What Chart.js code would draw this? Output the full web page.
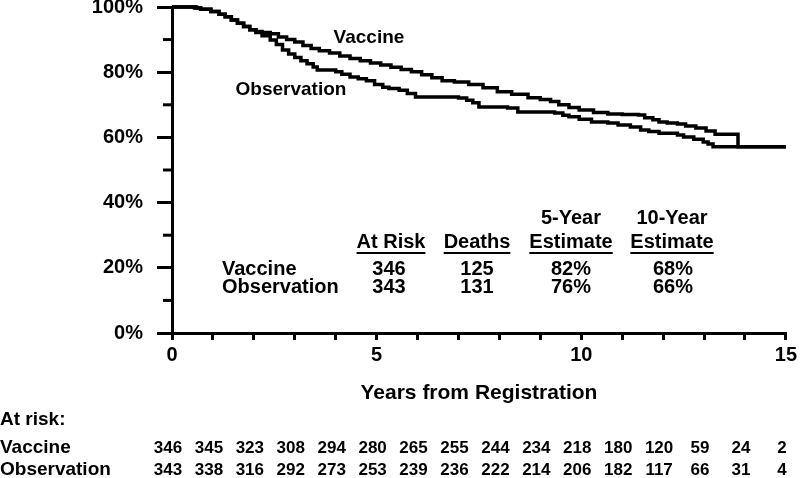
<!DOCTYPE html>
<html lang="en">
<head>
    <meta charset="UTF-8">
    <title>Survival - Vaccine vs Observation</title>
    <!-- Chart.js CDN -->
    <script src="https://cdn.jsdelivr.net/npm/chart.js"></script>
    <style>
        body {
            margin: 0;
            padding: 0;
            background: #fff;
        }

        .chart-wrap {
            width: 800px;
            height: 478px;
        }
    </style>
</head>
<body>
    <div class="chart-wrap">
        <canvas id="kmChart" width="800" height="478"></canvas>
    </div>

    <script>
        // Kaplan-Meier curves (years, % surviving)
        const vaccineYears = [0, 0.6, 0.7, 0.95, 1.15, 1.3, 1.45, 1.6, 1.75, 1.9, 2.05, 2.2, 2.4, 2.6, 2.8, 3.0, 3.2, 3.4, 3.6, 3.85, 4.1, 4.35, 4.6, 4.85, 5.1, 5.35, 5.6, 5.85, 6.1, 6.35, 6.6, 6.9, 7.25, 7.6, 7.95, 8.3, 8.7, 9.0, 9.25, 9.45, 9.7, 9.95, 10.3, 10.65, 11.0, 11.4, 11.55, 11.75, 11.9, 12.1, 12.35, 12.55, 12.8, 13.05, 13.27, 13.83, 15];
        const vaccineSurv = [100, 99.7, 99.3, 98.6, 97.8, 97.0, 96.0, 95.0, 94.0, 93.0, 92.5, 92.2, 91.8, 90.8, 90.0, 89.3, 88.2, 87.3, 86.6, 85.9, 85.0, 84.2, 83.5, 82.8, 82.2, 81.5, 80.8, 80.1, 79.2, 78.3, 77.4, 77.0, 76.2, 75.2, 74.0, 73.2, 72.2, 71.6, 71.0, 70.0, 69.2, 68.4, 67.6, 67.2, 67.0, 66.9, 66.0, 65.4, 64.7, 64.4, 64.1, 63.5, 62.9, 62.0, 61.0, 57.1, 57.1];

        const obsYears = [0, 0.55, 0.7, 0.95, 1.15, 1.3, 1.45, 1.6, 1.75, 1.9, 2.05, 2.2, 2.4, 2.55, 2.7, 2.85, 3.0, 3.15, 3.3, 3.45, 3.55, 4.0, 4.15, 4.35, 4.55, 4.75, 4.95, 5.15, 5.3, 5.55, 5.75, 5.95, 7.0, 7.2, 7.35, 7.5, 8.2, 8.45, 9.35, 9.55, 9.7, 9.95, 10.25, 10.65, 10.9, 11.2, 11.45, 11.65, 11.9, 12.35, 12.5, 12.75, 12.98, 13.1, 13.22, 15];
        const obsSurv = [100, 99.7, 99.3, 98.6, 97.8, 97.0, 96.0, 95.0, 94.0, 93.0, 92.2, 91.2, 89.9, 88.5, 86.8, 85.6, 84.5, 83.5, 82.6, 81.6, 80.7, 80.1, 79.4, 78.5, 78.0, 77.4, 76.2, 75.4, 75.0, 74.5, 73.5, 72.4, 72.1, 71.4, 70.6, 69.3, 69.0, 67.8, 67.5, 66.8, 66.3, 65.6, 64.7, 64.4, 63.8, 63.2, 62.3, 61.8, 61.3, 60.7, 60.1, 59.4, 58.6, 58.0, 57.1, 57.1];

        const minorYTicks = [10, 30, 50, 70, 90];

        // numbers at risk under the x axis
        const riskYears = [0, 1, 2, 3, 4, 5, 6, 7, 8, 9, 10, 11, 12, 13, 14, 15];
        const vaccineAtRisk = [346, 345, 323, 308, 294, 280, 265, 255, 244, 234, 218, 180, 120, 59, 24, 2];
        const obsAtRisk = [343, 338, 316, 292, 273, 253, 239, 236, 222, 214, 206, 182, 117, 66, 31, 4];

        // summary table inside the plot
        const armNames = ['Vaccine', 'Observation'];
        const armAtRisk = [346, 343];
        const armDeaths = [125, 131];
        const est5Year = ['82%', '76%'];
        const est10Year = ['68%', '66%'];

        const FONT = "'Liberation Sans', Arial, sans-serif";
        Chart.defaults.font.family = FONT;
        Chart.defaults.font.weight = 'bold';
        Chart.defaults.color = '#000';

        function toPoints(xs, ys) {
            return xs.map((x, i) => ({ x: x, y: ys[i] }));
        }

        function underlined(ctx, text, cx, cy) {
            ctx.fillText(text, cx, cy);
            const w = ctx.measureText(text).width;
            ctx.fillRect(cx - w / 2, cy + 10, w, 2);
        }

        const annotationsPlugin = {
            id: 'kmAnnotations',
            afterDraw(chart) {
                const ctx = chart.ctx;
                const xs = chart.scales.x;
                const ys = chart.scales.y;
                ctx.save();
                ctx.fillStyle = '#000';
                ctx.strokeStyle = '#000';

                // minor ticks on the y axis
                ctx.lineWidth = 3;
                minorYTicks.forEach(v => {
                    const py = ys.getPixelForValue(v);
                    ctx.beginPath();
                    ctx.moveTo(xs.left - 9, py);
                    ctx.lineTo(xs.left, py);
                    ctx.stroke();
                });

                // curve labels
                ctx.font = 'bold 19px ' + FONT;
                ctx.textAlign = 'center';
                ctx.textBaseline = 'middle';
                ctx.fillText('Vaccine', 369, 38);
                ctx.fillText('Observation', 291, 90);

                // summary table
                ctx.font = 'bold 20px ' + FONT;
                ctx.fillText('5-Year', 571, 218);
                ctx.fillText('10-Year', 672, 218);
                underlined(ctx, 'At Risk', 391, 242);
                underlined(ctx, 'Deaths', 477, 242);
                underlined(ctx, 'Estimate', 571, 242);
                underlined(ctx, 'Estimate', 672, 242);
                const rowY = [269, 287];
                armNames.forEach((name, i) => {
                    ctx.textAlign = 'left';
                    ctx.fillText(name, 222, rowY[i]);
                    ctx.textAlign = 'center';
                    ctx.fillText(armAtRisk[i], 389, rowY[i]);
                    ctx.fillText(armDeaths[i], 477, rowY[i]);
                    ctx.fillText(est5Year[i], 571, rowY[i]);
                    ctx.fillText(est10Year[i], 673, rowY[i]);
                });

                // numbers at risk
                ctx.font = 'bold 19px ' + FONT;
                ctx.textAlign = 'left';
                ctx.fillText('At risk:', 0, 420);
                ctx.fillText('Vaccine', 0, 448);
                ctx.fillText('Observation', 0, 470);
                ctx.font = 'bold 17px ' + FONT;
                ctx.textAlign = 'center';
                riskYears.forEach((yr, i) => {
                    const px = xs.getPixelForValue(yr) - 4;
                    ctx.fillText(vaccineAtRisk[i], px, 448);
                    ctx.fillText(obsAtRisk[i], px, 470);
                });
                ctx.restore();
            }
        };

        const lineStyle = {
            borderColor: '#000',
            borderWidth: 3.5,
            pointRadius: 0,
            stepped: true,
            fill: false,
            clip: false
        };

        const kmChart = new Chart(document.getElementById('kmChart').getContext('2d'), {
            type: 'line',
            data: {
                datasets: [
                    Object.assign({ label: 'Vaccine', data: toPoints(vaccineYears, vaccineSurv) }, lineStyle),
                    Object.assign({ label: 'Observation', data: toPoints(obsYears, obsSurv) }, lineStyle)
                ]
            },
            options: {
                responsive: false,
                animation: false,
                devicePixelRatio: 1,
                layout: {
                    padding: { top: 7, right: 12, bottom: 0, left: 0 }
                },
                plugins: {
                    legend: { display: false },
                    tooltip: { enabled: false }
                },
                scales: {
                    x: {
                        type: 'linear',
                        min: 0,
                        max: 15,
                        afterFit: s => { s.height = 145; },
                        border: { display: true, color: '#000', width: 3 },
                        grid: { drawOnChartArea: false, drawTicks: true, tickLength: 7, color: '#000', lineWidth: 3 },
                        ticks: {
                            stepSize: 1,
                            autoSkip: false,
                            maxRotation: 0,
                            padding: 3,
                            font: { size: 20, weight: 'bold' },
                            callback: v => (v % 5 === 0 ? String(v) : '')
                        },
                        title: {
                            display: true,
                            text: 'Years from Registration',
                            font: { size: 21, weight: 'bold' },
                            padding: { top: 0, bottom: 72 }
                        }
                    },
                    y: {
                        min: 0,
                        max: 100,
                        afterFit: s => {
                            s.width = 172;
                            s.paddingTop = 0;
                            s.paddingBottom = 0;
                        },
                        border: { display: true, color: '#000', width: 3 },
                        grid: { drawOnChartArea: false, drawTicks: true, tickLength: 15, color: '#000', lineWidth: 3 },
                        ticks: {
                            stepSize: 20,
                            padding: 14,
                            font: { size: 20, weight: 'bold' },
                            callback: v => v + '%'
                        }
                    }
                }
            },
            plugins: [annotationsPlugin]
        });
    </script>
</body>
</html>
